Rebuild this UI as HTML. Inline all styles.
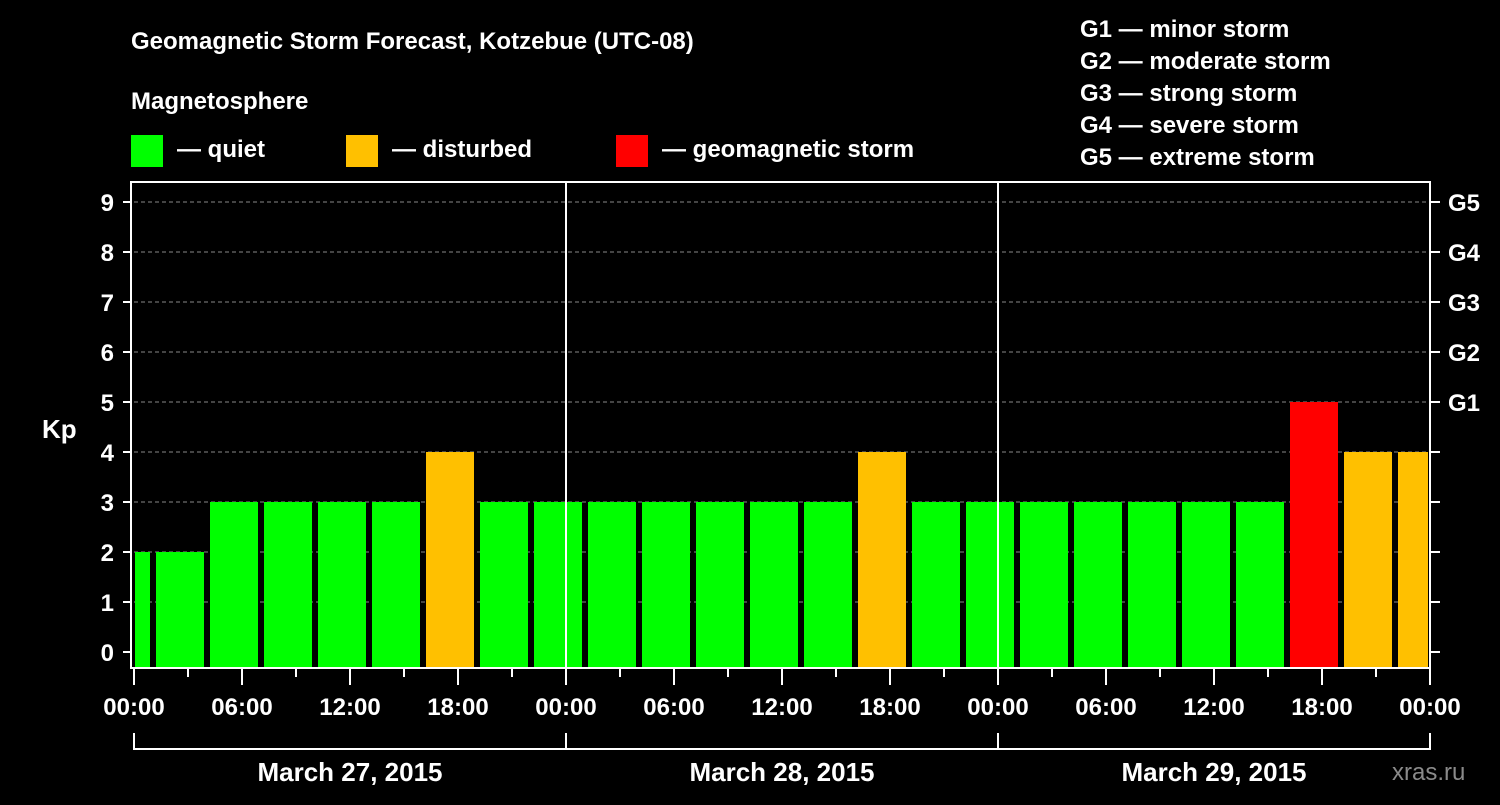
<!DOCTYPE html>
<html><head><meta charset="utf-8"><style>
body{margin:0;background:#000;width:1500px;height:800px;overflow:hidden}
svg text{font-family:"Liberation Sans",sans-serif;font-weight:bold;fill:#fff}
</style></head><body>
<svg id="c" width="1500" height="800" xmlns="http://www.w3.org/2000/svg">
<rect width="1500" height="800" fill="#000"/>
<text x="131" y="49" font-size="24">Geomagnetic Storm Forecast, Kotzebue (UTC-08)</text>
<text x="131" y="109" font-size="24">Magnetosphere</text>
<rect x="131" y="135" width="32" height="32" fill="#00ff00"/>
<text x="177" y="157" font-size="24">— quiet</text>
<rect x="346" y="135" width="32" height="32" fill="#ffc000"/>
<text x="392" y="157" font-size="24">— disturbed</text>
<rect x="616" y="135" width="32" height="32" fill="#ff0000"/>
<text x="662" y="157" font-size="24">— geomagnetic storm</text>
<g font-size="24">
<text x="1080" y="37">G1 — minor storm</text>
<text x="1080" y="69">G2 — moderate storm</text>
<text x="1080" y="101">G3 — strong storm</text>
<text x="1080" y="133">G4 — severe storm</text>
<text x="1080" y="165">G5 — extreme storm</text>
</g>
<text x="42" y="438" font-size="26">Kp</text>
<text x="1392" y="780" font-size="24" fill="#888" style="fill:#8a8a8a;font-weight:normal">xras.ru</text>
<g id="grid"></g><g id="bars"></g><g id="axes"></g>
</svg>
<script>
const values=[2,2,3,3,3,3,4,3,3,3,3,3,3,3,4,3,3,3,3,3,3,3,5,4,4];
const yTicks=[0,1,2,3,4,5,6,7,8,9];
const gLabels=["G1","G2","G3","G4","G5"];
const xLabels=["00:00","06:00","12:00","18:00","00:00","06:00","12:00","18:00","00:00","06:00","12:00","18:00","00:00"];
const dates=["March 27, 2015","March 28, 2015","March 29, 2015"];
const NS="http://www.w3.org/2000/svg";
const X0=134,PXH=18,Y0=652,PXU=50,BOT=668,TOP=182,RIGHT=1430;
const xs=h=>X0+h*PXH, ys=v=>Y0-v*PXU;
function mk(p,t,a){const e=document.createElementNS(NS,t);for(const k in a)e.setAttribute(k,a[k]);p.appendChild(e);return e;}
const grid=document.getElementById('grid'),bars=document.getElementById('bars'),axes=document.getElementById('axes');
function col(v){return v>=5?'#ff0000':v>=4?'#ffc000':'#00ff00';}
values.forEach((v,i)=>{
 const h0=-2+i*3;
 let x1=Math.max(xs(h0)+4,X0+1),x2=Math.min(xs(h0+3)-2,RIGHT-2);
 const r=mk(bars,'rect',{x:x1,y:ys(v),width:x2-x1,height:BOT-ys(v),fill:col(v)});
 
 
});
yTicks.forEach(t=>{
 const y=ys(t);
 if(t>0){const l=mk(grid,'line',{x1:X0,x2:RIGHT,y1:y,y2:y,stroke:'#888','stroke-dasharray':'4,3','stroke-width':1});
 }
 mk(axes,'line',{x1:123,x2:131,y1:y,y2:y,stroke:'#fff','stroke-width':2});
 mk(axes,'line',{x1:RIGHT,x2:1440,y1:y,y2:y,stroke:'#fff','stroke-width':2});
 const tx=mk(axes,'text',{x:114,y:y+9,'font-size':24,'text-anchor':'end'});tx.textContent=t;
 
});
gLabels.forEach((g,i)=>{const tx=mk(axes,'text',{x:1448,y:ys(5+i)+9,'font-size':24});tx.textContent=g;
 });
[24,48].forEach(h=>mk(axes,'line',{x1:xs(h),x2:xs(h),y1:TOP,y2:BOT,stroke:'#fff','stroke-width':2}));
mk(axes,'rect',{x:131,y:TOP,width:RIGHT-131,height:BOT-TOP,fill:'none',stroke:'#fff','stroke-width':2});
for(let h=0;h<=72;h+=3){mk(axes,'line',{x1:xs(h),x2:xs(h),y1:BOT,y2:h%6?677:685,stroke:'#fff','stroke-width':2});}
xLabels.forEach((l,i)=>{const tx=mk(axes,'text',{x:xs(i*6),y:715,'font-size':24,'text-anchor':'middle'});tx.textContent=l;
 });
mk(axes,'line',{x1:X0,x2:RIGHT,y1:749,y2:749,stroke:'#fff','stroke-width':2});
[0,24,48,72].forEach(h=>mk(axes,'line',{x1:xs(h),x2:xs(h),y1:733,y2:750,stroke:'#fff','stroke-width':2}));
dates.forEach((d,i)=>{const tx=mk(axes,'text',{x:xs(i*24+12),y:781,'font-size':26,'text-anchor':'middle'});tx.textContent=d;
 });
</script>
</body></html>
